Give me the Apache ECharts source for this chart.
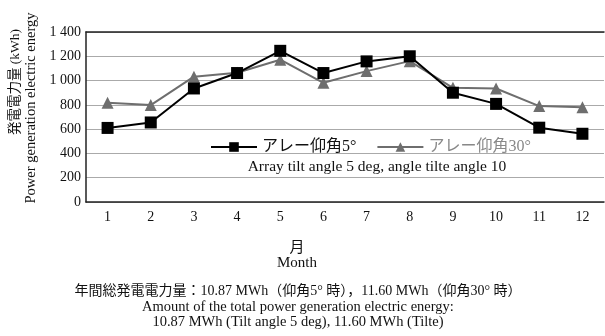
<!DOCTYPE html>
<html><head><meta charset="utf-8">
<script src="https://cdn.jsdelivr.net/npm/echarts@6/dist/echarts.min.js"></script>
<style>html,body{margin:0;padding:0;background:#fff}#c{width:605px;height:336px}</style>
</head><body><div id="c"></div>
<script>
const months = ['1','2','3','4','5','6','7','8','9','10','11','12'];
const tilt5 = [610, 655, 935, 1062, 1245, 1062, 1158, 1200, 900, 808, 612, 562];
const tilt30 = [818, 798, 1032, 1065, 1172, 982, 1078, 1160, 940, 935, 790, 780];
const yTicks = [0, 200, 400, 600, 800, 1000, 1200, 1400];
const seriesNames = ['アレー仰角5°', 'アレー仰角30°'];

const serif = '"Liberation Serif","DejaVu Serif","Noto Sans CJK JP",serif';
const chart = echarts.init(document.getElementById('c'));
chart.setOption({
  backgroundColor: '#fff',
  animation: false,
  grid: {left: 86, right: 1, top: 32, bottom: 134},
  xAxis: [{
    type: 'category', data: months, boundaryGap: true,
    axisLine: {lineStyle: {color: '#222', width: 1.5}},
    axisTick: {inside: true, length: 5, lineStyle: {color: '#444'}},
    axisLabel: {color: '#111', fontFamily: serif, fontSize: 14, margin: 8}
  }, {
    type: 'category', data: months, position: 'top',
    axisLine: {lineStyle: {color: '#222', width: 1.5}},
    axisTick: {show: false}, axisLabel: {show: false}
  }],
  yAxis: {
    type: 'value', min: yTicks[0], max: yTicks[yTicks.length-1], interval: 200,
    axisLine: {show: true, lineStyle: {color: '#222', width: 1.5}},
    axisTick: {show: false},
    splitLine: {lineStyle: {color: '#aaa', width: 1}},
    axisLabel: {color: '#111', fontFamily: serif, fontSize: 14, margin: 5,
      formatter: v => v >= 1000 ? String(v).replace(/^(\d)/, '$1 ') : String(v)}
  },
  legend: {
    top: 134, left: 205, itemWidth: 46, itemHeight: 12, itemGap: 20,
    textStyle: {fontFamily: serif, fontSize: 16},
    data: [
      {name: seriesNames[0], textStyle: {color: '#111'}},
      {name: seriesNames[1], textStyle: {color: '#888'}}
    ]
  },
  series: [
    {name: seriesNames[1], type: 'line', data: tilt30, symbol: 'triangle', symbolSize: 12,
      lineStyle: {color: '#6e6e6e', width: 2}, itemStyle: {color: '#6e6e6e'}, z: 2},
    {name: seriesNames[0], type: 'line', data: tilt5, symbol: 'rect', symbolSize: 12,
      lineStyle: {color: '#000', width: 2}, itemStyle: {color: '#000'}, z: 3}
  ],
  graphic: [
    {type: 'text', x: 377, y: 167, style: {text: 'Array tilt angle 5 deg, angle tilte angle 10', font: '15.5px ' + serif, fill: '#111', align: 'center', verticalAlign: 'middle'}},
    {type: 'text', x: 15, y: 82, rotation: Math.PI/2, style: {text: '発電電力量 (kWh)', font: '13.5px ' + serif, fill: '#111', align: 'center', verticalAlign: 'middle'}},
    {type: 'text', x: 31, y: 108, rotation: Math.PI/2, style: {text: 'Power generation electric energy', font: '14.5px ' + serif, fill: '#111', align: 'center', verticalAlign: 'middle'}},
    {type: 'text', x: 297, y: 248, style: {text: '月', font: '15px ' + serif, fill: '#111', align: 'center', verticalAlign: 'middle'}},
    {type: 'text', x: 297, y: 263, style: {text: 'Month', font: '15px ' + serif, fill: '#111', align: 'center', verticalAlign: 'middle'}},
    {type: 'text', x: 298, y: 291, style: {text: '年間総発電電力量：10.87 MWh（仰角5° 時），11.60 MWh（仰角30° 時）', font: '14px ' + serif, fill: '#111', align: 'center', verticalAlign: 'middle'}},
    {type: 'text', x: 298, y: 307, style: {text: 'Amount of the total power generation electric energy:', font: '14.5px ' + serif, fill: '#111', align: 'center', verticalAlign: 'middle'}},
    {type: 'text', x: 298, y: 322, style: {text: '10.87 MWh (Tilt angle 5 deg), 11.60 MWh (Tilte)', font: '14.5px ' + serif, fill: '#111', align: 'center', verticalAlign: 'middle'}}
  ]
});
</script></body></html>
